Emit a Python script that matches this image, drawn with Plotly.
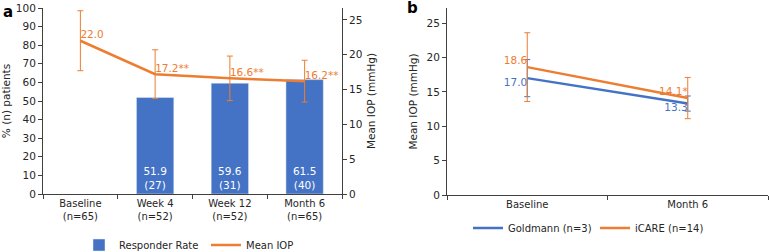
import plotly.graph_objects as go

# Panel a data
cats_a = ["Baseline<br>(n=65)", "Week 4<br>(n=52)", "Week 12<br>(n=52)", "Month 6<br>(n=65)"]
resp_rate = [None, 51.9, 59.6, 61.5]
resp_n = [None, 27, 31, 40]
mean_iop = [22.0, 17.2, 16.6, 16.2]
mean_iop_err = [4.3, 3.5, 3.2, 3.0]
mean_iop_lbl = ["22.0", "17.2**", "16.6**", "16.2**"]

# Panel b data
cats_b = ["Baseline", "Month 6"]
goldmann = [17.0, 13.3]
goldmann_err = [2.7, 1.1]
goldmann_lbl = ["17.0", "13.3"]
icare = [18.6, 14.1]
icare_err = [5.0, 3.0]
icare_lbl = ["18.6", "14.1*"]

BLUE = "#4472C4"
ORANGE = "#ED7D31"
AX = "#404040"
TXT = "#262626"
FONT = "DejaVu Sans"
FS = 10
W, H = 769, 252

def fx(px):
    return px / W

def fy(py):
    return 1 - py / H

fig = go.Figure()

bar_text = [("" if v is None else f"{v}<br>({n})") for v, n in zip(resp_rate, resp_n)]
fig.add_trace(go.Bar(
    x=cats_a, y=resp_rate, name="Responder Rate", marker_color=BLUE, width=0.5,
    text=bar_text, textposition="inside", insidetextanchor="start",
    textfont=dict(color="white", size=FS + 0.5, family=FONT),
    xaxis="x", yaxis="y", legend="legend", hoverinfo="skip",
))
fig.add_trace(go.Scatter(
    x=cats_a, y=mean_iop, name="Mean IOP", mode="lines+text",
    line=dict(color=ORANGE, width=2.5),
    error_y=dict(type="data", array=mean_iop_err, color=ORANGE, thickness=1, width=3),
    text=mean_iop_lbl, textposition="top right",
    textfont=dict(color=ORANGE, size=FS + 0.5, family=FONT),
    xaxis="x", yaxis="y2", legend="legend",
))

fig.add_trace(go.Scatter(
    x=cats_b, y=goldmann, name="Goldmann (n=3)", mode="lines+text",
    line=dict(color=BLUE, width=2.5),
    error_y=dict(type="data", array=goldmann_err, color=BLUE, thickness=1, width=3),
    text=goldmann_lbl, textposition="bottom left",
    textfont=dict(color=BLUE, size=FS + 0.5, family=FONT),
    xaxis="x3", yaxis="y3", legend="legend2",
))
fig.add_trace(go.Scatter(
    x=cats_b, y=icare, name="iCARE (n=14)", mode="lines+text",
    line=dict(color=ORANGE, width=2.5),
    error_y=dict(type="data", array=icare_err, color=ORANGE, thickness=1, width=3),
    text=icare_lbl, textposition="top left",
    textfont=dict(color=ORANGE, size=FS + 0.5, family=FONT),
    xaxis="x3", yaxis="y3", legend="legend2",
))

tickfont = dict(family=FONT, size=FS + 0.5, color=TXT)
axcommon = dict(showline=True, linecolor=AX, linewidth=1, ticks="outside", ticklen=4,
                tickcolor=AX, showgrid=False, zeroline=False,
                fixedrange=True, automargin=False)
titlefont = dict(family=FONT, size=FS + 0.5, color=TXT)
xtickfont = dict(family=FONT, size=FS, color=TXT)
legfont = dict(family=FONT, size=FS, color=TXT)

fig.update_layout(
    width=W, height=H, margin=dict(l=0, r=0, t=0, b=0, autoexpand=False),
    paper_bgcolor="white", plot_bgcolor="white",
    font=dict(family=FONT, size=FS, color=TXT),
    xaxis=dict(domain=[fx(43), fx(342)], tickson="boundaries", anchor="y",
               range=[-0.5, 3.5], tickfont=xtickfont, **axcommon),
    yaxis=dict(domain=[fy(194), fy(8)], range=[0, 100], dtick=10, anchor="x",
               tickfont=tickfont,
               title=dict(text="% (n) patients", font=titlefont, standoff=6),
               **axcommon),
    yaxis2=dict(overlaying="y", side="right", anchor="x", range=[0, 26.7], dtick=5,
                tickfont=tickfont,
                title=dict(text="Mean IOP (mmHg)", font=titlefont, standoff=6),
                **axcommon),
    xaxis3=dict(domain=[fx(447), fx(768)], tickson="boundaries", anchor="y3",
                range=[-0.5, 1.5], tickfont=xtickfont, **axcommon),
    yaxis3=dict(domain=[fy(195), fy(8)], range=[0, 27.2], dtick=5, anchor="x3",
                tickfont=tickfont,
                title=dict(text="Mean IOP (mmHg)", font=titlefont, standoff=6),
                **axcommon),
    legend=dict(orientation="h", x=fx(79), y=fy(245), xanchor="left", yanchor="middle",
                font=legfont, itemwidth=30, entrywidth=82, entrywidthmode="pixels",
                bgcolor="rgba(0,0,0,0)"),
    legend2=dict(orientation="h", x=fx(468), y=fy(228), xanchor="left", yanchor="middle",
                 font=legfont, itemwidth=30, entrywidth=82, entrywidthmode="pixels",
                 bgcolor="rgba(0,0,0,0)"),
    showlegend=True,
    annotations=[
        dict(text="<b>a</b>", x=fx(1), y=fy(12), xref="paper", yref="paper",
             xanchor="left", yanchor="middle", showarrow=False,
             font=dict(size=15, family=FONT, color="black")),
        dict(text="<b>b</b>", x=fx(405), y=fy(8), xref="paper", yref="paper",
             xanchor="left", yanchor="middle", showarrow=False,
             font=dict(size=15, family=FONT, color="black")),
    ],
)

fig.write_html("out.html", post_script="document.body.style.margin='0';",
               config={"displayModeBar": False})
